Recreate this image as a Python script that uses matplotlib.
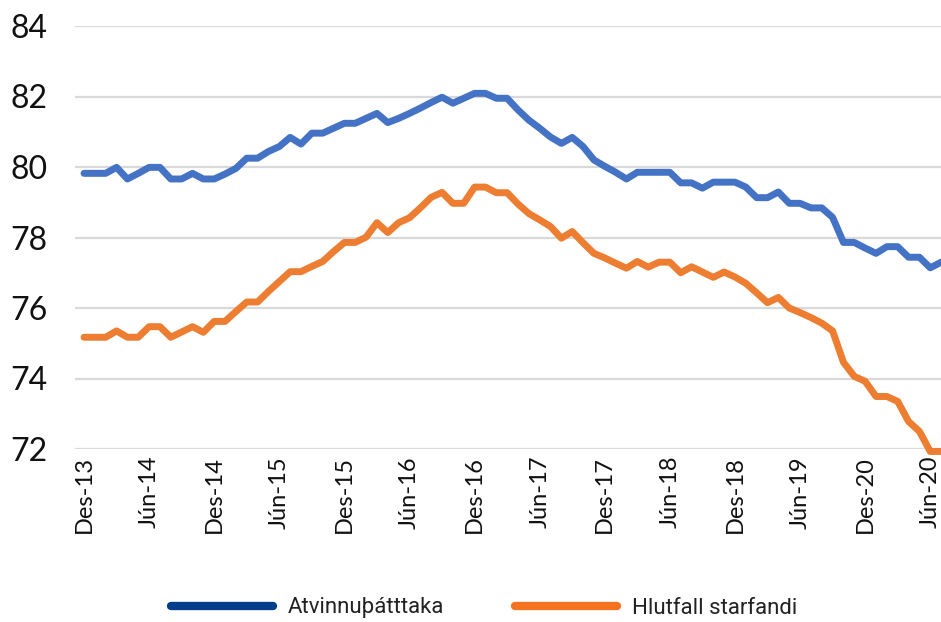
import matplotlib
matplotlib.use("Agg")
import matplotlib.pyplot as plt
from matplotlib import font_manager
from matplotlib.lines import Line2D
import numpy as np

# monthly values, Des-13 .. Júl-20
atvinnuthatttaka = [
    79.82, 79.82, 79.82, 79.99, 79.66, 79.82, 79.99, 79.99, 79.66, 79.66,
    79.82, 79.66, 79.66, 79.80, 79.96, 80.25, 80.25, 80.44, 80.58, 80.84,
    80.65, 80.96, 80.96, 81.10, 81.24, 81.24, 81.38, 81.52, 81.26, 81.38,
    81.52, 81.67, 81.83, 81.98, 81.81, 81.95, 82.09, 82.09, 81.95, 81.95,
    81.62, 81.33, 81.10, 80.85, 80.67, 80.84, 80.58, 80.20, 80.02, 79.85,
    79.66, 79.85, 79.85, 79.85, 79.85, 79.55, 79.55, 79.40, 79.57, 79.57,
    79.57, 79.43, 79.13, 79.13, 79.29, 78.97, 78.97, 78.84, 78.84, 78.57,
    77.86, 77.86, 77.70, 77.55, 77.74, 77.74, 77.44, 77.44, 77.14, 77.30,
]
hlutfall_starfandi = [
    75.17, 75.17, 75.17, 75.35, 75.17, 75.17, 75.47, 75.47, 75.17, 75.32,
    75.47, 75.31, 75.62, 75.62, 75.90, 76.17, 76.17, 76.47, 76.75, 77.03,
    77.03, 77.18, 77.32, 77.60, 77.86, 77.86, 78.01, 78.42, 78.14, 78.42,
    78.56, 78.84, 79.14, 79.28, 78.97, 78.97, 79.43, 79.43, 79.27, 79.27,
    78.95, 78.68, 78.50, 78.31, 77.98, 78.17, 77.85, 77.55, 77.42, 77.27,
    77.13, 77.32, 77.16, 77.30, 77.30, 77.00, 77.17, 77.02, 76.87, 77.02,
    76.88, 76.70, 76.43, 76.15, 76.30, 76.00, 75.87, 75.73, 75.57, 75.35,
    74.46, 74.06, 73.92, 73.49, 73.49, 73.35, 72.78, 72.50, 71.93, 71.93,
]

# tick labels as printed on the original (one every six months)
tick_labels = ["Des-13", "Jún-14", "Des-14", "Jún-15", "Des-15", "Jún-16", "Des-16",
               "Jún-17", "Des-17", "Jún-18", "Des-18", "Jún-19", "Des-20", "Jún-20"]
series_names = ["Atvinnuþátttaka", "Hlutfall starfandi"]

x = np.arange(len(atvinnuthatttaka))
tick_pos = x[::6][:len(tick_labels)]


def pick_font(candidates):
    for name in candidates:
        try:
            font_manager.findfont(name, fallback_to_default=False)
            return name
        except ValueError:
            continue
    return "DejaVu Sans"


tick_font = pick_font(["Lato", "Open Sans", "DejaVu Sans"])
legend_font = pick_font(["Liberation Sans Narrow", "Roboto", "DejaVu Sans"])

W, H = 941, 622
fig = plt.figure(figsize=(W / 100, H / 100), dpi=100)
# plot area in pixels: left 75, right 941, top 26, bottom 449
ax = fig.add_axes([75 / W, (H - 449) / H, (941 - 75) / W, (449 - 26) / H])

ax.plot(x, atvinnuthatttaka, color="#4472C4", lw=5, solid_capstyle="round",
        solid_joinstyle="round", clip_on=False, zorder=3)
ax.plot(x, hlutfall_starfandi, color="#ED7D31", lw=5, solid_capstyle="round",
        solid_joinstyle="round", clip_on=False, zorder=3)

ax.set_xlim(-0.83, 78.99)
ax.set_ylim(72, 84)
ax.set_yticks(np.arange(72, 85, 2))
ax.set_xticks(tick_pos)
ax.set_xticklabels(tick_labels, rotation=90, ha="center", va="top")

ax.grid(axis="y", color="#D9D9D9", lw=1.6)
ax.set_axisbelow(True)
for s in ax.spines.values():
    s.set_visible(False)
ax.tick_params(axis="both", length=0)
ax.tick_params(axis="y", pad=20, labelsize=23, labelcolor="#111111")
ax.tick_params(axis="x", pad=5, labelsize=17, labelcolor="#111111")
for lab in ax.get_xticklabels() + ax.get_yticklabels():
    lab.set_fontfamily(tick_font)

# legend uses its own darker colours in the original
handles = [
    Line2D([0], [0], color="#023E8A", lw=6, solid_capstyle="round"),
    Line2D([0], [0], color="#F47321", lw=6, solid_capstyle="round"),
]
fig.legend(handles, series_names, loc="center", bbox_to_anchor=(484 / W, 14 / H),
           ncol=2, frameon=False, handlelength=4.6, handletextpad=0.65,
           columnspacing=3.2, prop={"family": legend_font, "size": 16},
           labelcolor="#222222")

fig.savefig("out.png", dpi=100)
